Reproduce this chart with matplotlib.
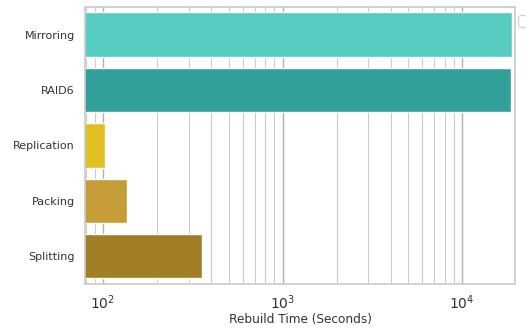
import numpy as np
import matplotlib
matplotlib.use('Agg')
import matplotlib.pyplot as plt
import seaborn as sns

methods = ['Mirroring', 'RAID6', 'Replication', 'Packing', 'Splitting']
rebuild_time = [19000, 18700, 103, 136, 356]
colors = ['#56ccc0', '#31a098', '#e0c020', '#c49c38', '#a27e24']

sns.set_theme(style='whitegrid')
plt.rcParams['font.family'] = ['DejaVu Sans']

fig = plt.figure(figsize=(5.26, 3.31), dpi=100)
ax = fig.add_axes([0.1616, 0.142, 0.8175, 0.837])

y = np.arange(len(methods))
ax.barh(y, rebuild_time, height=0.8, color=colors, left=0)
ax.set_xscale('log')
ax.set_xlim(79.4, 19700)
ax.set_ylim(len(methods) - 0.5, -0.5)
ax.set_yticks(y)
ax.set_yticklabels(methods, fontsize=8, color='#333333')
ax.tick_params(axis='y', pad=1.3)
ax.tick_params(axis='x', labelsize=10, colors='#333333', pad=0.5)
ax.set_xlabel('Rebuild Time (Seconds)', fontsize=8.7, labelpad=1, color='#333333')

ax.grid(True, which='major', axis='x', color='#b0b0b0', linewidth=1)
ax.grid(True, which='minor', axis='x', color='#cccccc', linewidth=0.8)
ax.grid(False, axis='y')
for s in ax.spines.values():
    s.set_color('#cccccc')

ax.legend(handles=[], bbox_to_anchor=(0.99, 1.0), loc='upper left')

plt.savefig('out.png', dpi=100)
